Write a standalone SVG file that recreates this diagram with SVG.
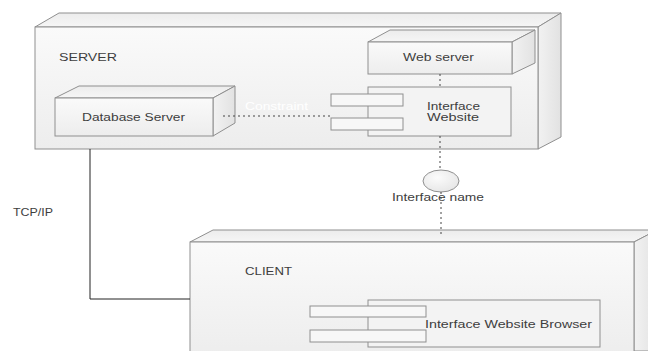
<svg xmlns="http://www.w3.org/2000/svg" width="648" height="351" viewBox="0 0 648 351">
<defs>
<linearGradient id="gFront" x1="0" y1="0" x2="0" y2="1">
<stop offset="0" stop-color="#fafafa"/>
<stop offset="1" stop-color="#ededed"/>
</linearGradient>
<linearGradient id="gTop" x1="0" y1="0" x2="0" y2="1">
<stop offset="0" stop-color="#ececec"/>
<stop offset="1" stop-color="#f6f6f6"/>
</linearGradient>
<linearGradient id="gSide" x1="0" y1="0" x2="1" y2="0">
<stop offset="0" stop-color="#f2f2f2"/>
<stop offset="1" stop-color="#e2e2e2"/>
</linearGradient>
<radialGradient id="gIface" cx="0.4" cy="0.35" r="0.7">
<stop offset="0" stop-color="#fbfbfb"/>
<stop offset="1" stop-color="#e6e6e6"/>
</radialGradient>
</defs>
<style>
.front{fill:url(#gFront);stroke:#8f8f8f;stroke-width:1}
.top{fill:url(#gTop);stroke:#8f8f8f;stroke-width:1}
.side{fill:url(#gSide);stroke:#8f8f8f;stroke-width:1}
.comp{fill:#f3f3f3;stroke:#8f8f8f;stroke-width:1}
.port{fill:#f7f7f7;stroke:#8f8f8f;stroke-width:1}
.t{font-family:"Liberation Sans",Arial,sans-serif;font-size:11px;fill:#3e3e3e}
.s{font-size:10px}
.dot{fill:none;stroke:#444;stroke-width:1;stroke-dasharray:2 3}
.solid{fill:none;stroke:#222;stroke-width:1}
</style>
<rect width="648" height="351" fill="#ffffff"/>

<g id="server">
<polygon class="top" points="35,27 59,13 561,13 538,27"/>
<polygon class="side" points="538,27 561,13 561,137 538,149"/>
<rect class="front" x="35" y="27" width="503" height="122"/>
<text class="t" x="59" y="61" textLength="58" lengthAdjust="spacingAndGlyphs">SERVER</text>
</g>

<g id="database-server">
<polygon class="top" points="55,98 79,86 235,86 213,98"/>
<polygon class="side" points="213,98 235,86 235,123 213,136"/>
<rect class="front" x="55" y="98" width="158" height="38"/>
<text class="t" x="82" y="121" textLength="103" lengthAdjust="spacingAndGlyphs">Database Server</text>
</g>

<g id="web-server">
<polygon class="top" points="368,42 390,30 535,30 512,42"/>
<polygon class="side" points="512,42 535,30 535,63 512,74"/>
<rect class="front" x="368" y="42" width="144" height="32"/>
<text class="t" x="403" y="61" textLength="71" lengthAdjust="spacingAndGlyphs">Web server</text>
</g>

<g id="interface-website">
<rect class="comp" x="368" y="87" width="143" height="49"/>
<rect class="port" x="331" y="94" width="72" height="12"/>
<rect class="port" x="331" y="118" width="72" height="12"/>
<text class="t s" x="427" y="109.5" textLength="53" lengthAdjust="spacingAndGlyphs">Interface</text>
<text class="t s" x="427" y="121" textLength="52" lengthAdjust="spacingAndGlyphs">Website</text>
</g>

<g id="interface-name">
<ellipse cx="441" cy="181" rx="18" ry="11" fill="url(#gIface)" stroke="#8f8f8f" stroke-width="1"/>
<text class="t" x="392" y="201" textLength="92" lengthAdjust="spacingAndGlyphs">Interface name</text>
</g>

<g id="client">
<polygon class="top" points="190,242 213,230 657,230 634,242"/>
<polygon class="side" points="634,242 657,230 657,351 634,351"/>
<rect class="front" x="190" y="242" width="444" height="115"/>
<text class="t" x="245" y="275" textLength="47" lengthAdjust="spacingAndGlyphs">CLIENT</text>
</g>

<g id="interface-website-browser">
<rect class="comp" x="368" y="300" width="232" height="47"/>
<rect class="port" x="310" y="306" width="116" height="11"/>
<rect class="port" x="310" y="330" width="116" height="12"/>
<text class="t" x="425" y="328" textLength="167" lengthAdjust="spacingAndGlyphs">Interface Website Browser</text>
</g>

<g id="connectors">
<line class="dot" x1="440" y1="74" x2="440" y2="87"/>
<line class="dot" x1="440" y1="136" x2="440" y2="170"/>
<line class="dot" x1="441" y1="192" x2="441" y2="235"/>
<line class="dot" x1="223" y1="116" x2="331" y2="116"/>
<text class="t" x="245" y="110" textLength="63" lengthAdjust="spacingAndGlyphs" style="fill:#ffffff">Constraint</text>
<polyline class="solid" points="90,149 90,299 190,299"/>
<text class="t" x="13" y="216" textLength="40" lengthAdjust="spacingAndGlyphs">TCP/IP</text>
</g>
</svg>
